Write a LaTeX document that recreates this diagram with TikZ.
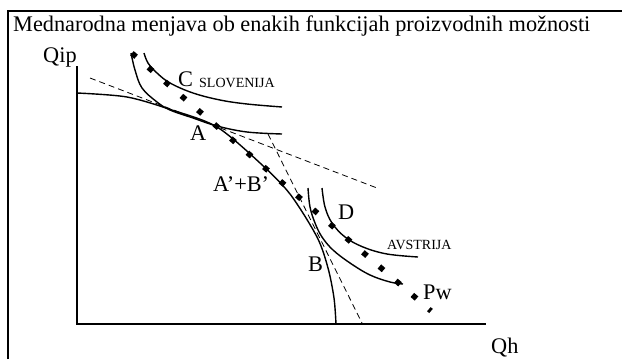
\documentclass[tikz,border=0pt]{standalone}
\usepackage{fontspec}
\setmainfont{Liberation Serif}
\begin{document}
\begin{tikzpicture}[x=1pt,y=-1pt]
    \pgfmathsetmacro{\width}{623}
    \pgfmathsetmacro{\height}{359}
    \tikzset{every node/.style={inner sep=0pt,anchor=base west,font=\fontsize{22.3}{26}\selectfont},
      small/.style={font=\fontsize{14}{17}\selectfont},
      curve/.style={line width=1.4pt,line join=round},
      priceline/.style={line width=0.8pt,dash pattern=on 6pt off 4pt},
      worldline/.style={line width=5.5pt,dash pattern=on 5.5pt off 16.28pt}}
    \useasboundingbox (0,0) rectangle (\width,\height);
    \draw[line width=1.5pt] (8,\height) -- (8,11) -- (622,11);
    \node (title) at (13,31) {Mednarodna menjava ob enakih funkcijah proizvodnih možnosti};
    % axes
    \coordinate (O) at (77,324);
    \coordinate (ytop) at (77,66);
    \coordinate (xend) at (486,324);
    \draw[line width=1.6pt] (ytop) -- (O) -- (xend);
    \node (qip) at (43,62) {Qip};
    \node (qh) at (491,353) {Qh};
    % price lines
    \coordinate (slo0) at (90,78);
    \coordinate (slo1) at (377,188);
    \coordinate (avs0) at (268,134);
    \coordinate (avs1) at (362,323);
    \draw[priceline] (slo0) -- (slo1);
    \draw[priceline] (avs0) -- (avs1);
    % production possibility frontier
    \draw[curve] plot[smooth,tension=0.5] coordinates {(77,93) (127,97) (172,110) (217,127) (260,163) (290,194) (317,237) (328,268) (334,298) (336,324)};
    % indifference curves
    \draw[curve] plot[smooth,tension=0.6] coordinates {(131,53) (135,70) (142,88) (157,102) (170,110) (193,118) (217,126) (247,132) (282,134)};
    \draw[curve] plot[smooth,tension=0.6] coordinates {(144,53) (148,63) (157,73) (170,83) (193,93) (220,100) (247,104) (282,107)};
    \draw[curve] plot[smooth,tension=0.6] coordinates {(308,188) (310,207) (315,223) (322,237) (333,250) (350,263) (370,275) (390,282) (403,284)};
    \draw[curve] plot[smooth,tension=0.6] coordinates {(322,188) (325,207) (332,223) (345,237) (363,247) (387,254) (418,257)};
    % world price line
    \coordinate (pw0) at (131.9,53.2);
    \coordinate (pw1) at (431,311);
    \draw[worldline] (pw0) -- (pw1);
    % labels
    \node (labC) at (178,86) {C};
    \node[small] (labSlo) at (199,87) {SLOVENIJA};
    \node (labA) at (190,140) {A};
    \node (labAB) at (213,191.5) {A’+B’};
    \node (labB) at (308,271.5) {B};
    \node (labD) at (338,219.5) {D};
    \node[small] (labAvs) at (387,249.3) {AVSTRIJA};
    \node (labPw) at (423,299.5) {Pw};
\end{tikzpicture}
\end{document}
